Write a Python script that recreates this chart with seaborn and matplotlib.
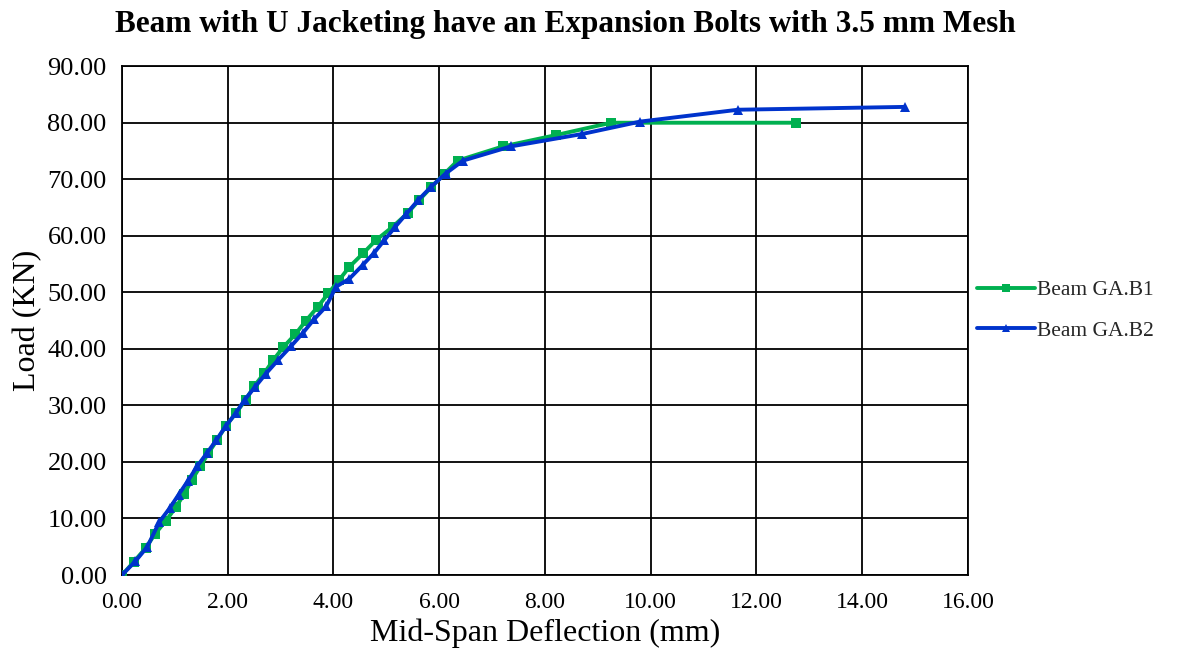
import matplotlib
matplotlib.use("Agg")
import matplotlib.pyplot as plt
import seaborn as sns
import pandas as pd

# Load-deflection readings for the two jacketed beams
b1_deflection = [0.00, 0.22, 0.45, 0.62, 0.83, 1.02, 1.18, 1.32, 1.48, 1.63, 1.80, 1.96,
                 2.15, 2.34, 2.50, 2.69, 2.86, 3.05, 3.28, 3.48, 3.70, 3.90, 4.10, 4.30,
                 4.56, 4.80, 5.12, 5.40, 5.62, 5.85, 6.10, 6.35, 7.20, 8.20, 9.25, 12.75]
b1_load = [0.0, 2.3, 4.8, 7.2, 9.6, 12.0, 14.4, 16.8, 19.2, 21.5, 23.9, 26.3,
           28.6, 31.0, 33.4, 35.7, 38.0, 40.3, 42.6, 45.0, 47.4, 49.8, 52.1, 54.5,
           56.9, 59.2, 61.6, 64.0, 66.3, 68.6, 71.0, 73.3, 75.8, 77.8, 80.0, 80.0]

b2_deflection = [0.00, 0.25, 0.48, 0.70, 0.90, 1.07, 1.25, 1.42, 1.60, 1.78, 1.96, 2.15,
                 2.32, 2.52, 2.72, 2.95, 3.20, 3.42, 3.63, 3.86, 4.05, 4.30, 4.55, 4.77,
                 4.96, 5.16, 5.38, 5.60, 5.85, 6.12, 6.45, 7.35, 8.70, 9.80, 11.65, 14.80]
b2_load = [0.0, 2.4, 5.0, 9.3, 11.8, 14.2, 16.7, 19.2, 21.5, 23.8, 26.3, 28.6,
           31.0, 33.3, 35.6, 38.0, 40.5, 42.8, 45.2, 47.5, 51.0, 52.4, 54.8, 57.0,
           59.2, 61.5, 63.9, 66.3, 68.7, 71.0, 73.3, 75.8, 78.0, 80.2, 82.3, 82.8]

series_names = ["Beam GA.B1", "Beam GA.B2"]
x_ticks = [0, 2, 4, 6, 8, 10, 12, 14, 16]
y_ticks = [0, 10, 20, 30, 40, 50, 60, 70, 80, 90]

df = pd.concat([
    pd.DataFrame({"Deflection": b1_deflection, "Load": b1_load, "Beam": series_names[0]}),
    pd.DataFrame({"Deflection": b2_deflection, "Load": b2_load, "Beam": series_names[1]}),
], ignore_index=True)

sns.set_theme(style="white")
plt.rcParams["font.family"] = ["Liberation Serif", "DejaVu Serif"]

fig = plt.figure(figsize=(11.81, 6.49), dpi=100)
ax = fig.add_axes([0.1033, 0.114, 0.7163, 0.784])

palette = {series_names[0]: "#00B050", series_names[1]: "#0033CC"}
markers = {series_names[0]: "s", series_names[1]: "^"}

sns.lineplot(data=df, x="Deflection", y="Load", hue="Beam", style="Beam",
             palette=palette, markers=markers, dashes=False, sort=False,
             estimator=None, linewidth=2.8, markersize=7.5, markeredgewidth=0,
             ax=ax, zorder=3)

ax.set_xlim(0, 16)
ax.set_ylim(0, 90)
ax.set_xticks(x_ticks)
ax.set_yticks(y_ticks)
ax.set_xticklabels([f"{v:.2f}" for v in x_ticks], fontsize=17)
ax.set_yticklabels([f"{v:.2f}" for v in y_ticks], fontsize=19)
ax.tick_params(axis="both", which="major", length=4, width=1.2, color="black",
               direction="out", labelcolor="black")
ax.tick_params(axis="x", pad=8)
ax.tick_params(axis="y", pad=7)

ax.grid(True, color="black", linewidth=1.3)
ax.set_axisbelow(True)
for s in ax.spines.values():
    s.set_color("black")
    s.set_linewidth(1.3)

ax.set_xlabel("Mid-Span Deflection (mm)", fontsize=23, color="black", labelpad=4)
ax.set_ylabel("Load (KN)", fontsize=23, color="black", labelpad=4)
fig.text(0.479, 0.962, "Beam with U Jacketing have an Expansion Bolts with 3.5 mm Mesh",
         fontsize=22.5, fontweight="bold", ha="center", va="center", color="black")

leg = ax.legend(loc="center left", bbox_to_anchor=(1.0, 0.52), borderaxespad=0.0,
                frameon=False, fontsize=15.5, handlelength=2.7, handletextpad=0.1,
                labelspacing=0.95)
for h in leg.legend_handles:
    h.set_markersize(6)
    h.set_linewidth(2.8)

fig.savefig("out.png", dpi=100)
